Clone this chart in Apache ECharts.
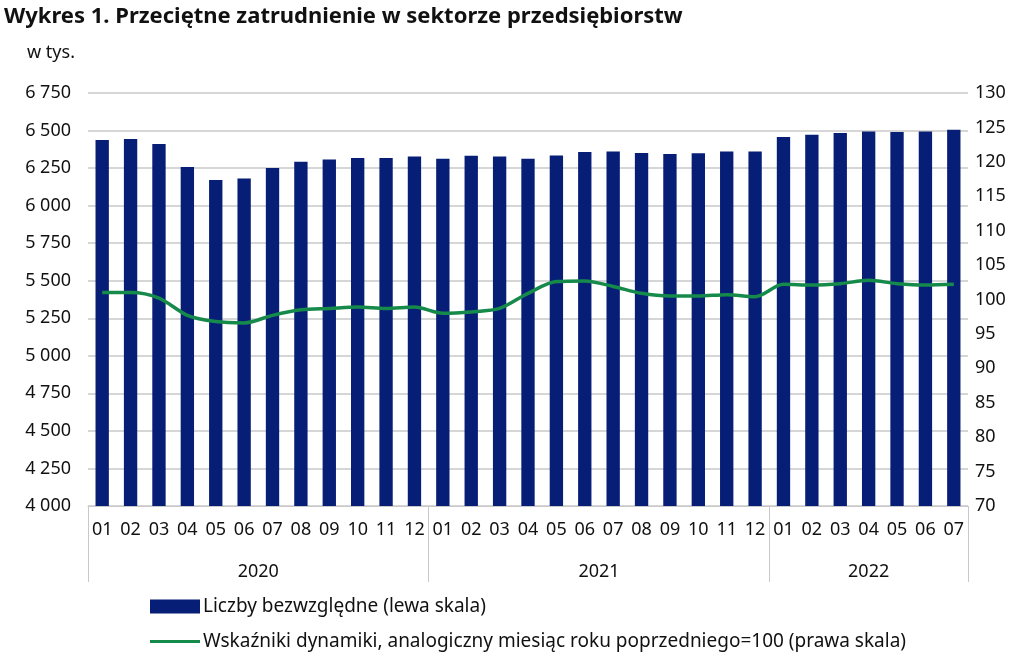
<!DOCTYPE html>
<html>
<head>
<meta charset="utf-8">
<script src="https://cdn.jsdelivr.net/npm/echarts@6/dist/echarts.min.js"></script>
<style>
  html, body { margin: 0; padding: 0; background: #fff; }
  #chart { width: 1030px; height: 657px; }
</style>
</head>
<body>
<div id="chart"></div>
<script>
var months = ['01','02','03','04','05','06','07','08','09','10','11','12',
  '01','02','03','04','05','06','07','08','09','10','11','12',
  '01','02','03','04','05','06','07'];
var years = ['2020', '2021', '2022'];
var yearBounds = [0, 12, 24, 31];
var yearCenters = [6, 18, 27.5];

// przeciętne zatrudnienie, w tys.
var employment = [6437, 6443, 6410, 6257, 6170, 6181, 6250, 6292, 6308, 6317, 6317, 6328,
  6312, 6332, 6328, 6312, 6334, 6357, 6361, 6350, 6343, 6348, 6361, 6361,
  6457, 6472, 6483, 6494, 6490, 6494, 6506];
// analogiczny miesiąc roku poprzedniego = 100
var dynamics = [101.0, 101.0, 100.2, 97.7, 96.8, 96.6, 97.7, 98.5, 98.7, 98.9, 98.7, 98.9,
  98.0, 98.2, 98.7, 100.9, 102.6, 102.7, 101.9, 100.9, 100.5, 100.5, 100.7, 100.4,
  102.2, 102.1, 102.3, 102.8, 102.3, 102.1, 102.2];

var barName = 'Liczby bezwzględne (lewa skala)';
var lineName = 'Wskaźniki dynamiki, analogiczny miesiąc roku poprzedniego=100 (prawa skala)';

var font = 'Noto Sans';
var txt = '#111';
var gridGray = '#c8c8c8';
var navy = '#061e75';
var green = '#158a4a';

var myChart = echarts.init(document.getElementById('chart'), null, { renderer: 'canvas' });

var option = {
  backgroundColor: '#fff',
  animation: false,
  textStyle: { fontFamily: font },
  title: [
    {
      text: 'Wykres 1. Przeciętne zatrudnienie w sektorze przedsiębiorstw',
      left: 4, top: 6, padding: 0,
      textStyle: { fontFamily: font, fontSize: 22, fontWeight: 'bold', color: txt }
    },
    {
      text: 'w tys.',
      left: 27, top: 44, padding: 0,
      textStyle: { fontFamily: font, fontSize: 18, fontWeight: 'normal', color: txt }
    }
  ],
  legend: [
    {
      left: 145, top: 592,
      itemWidth: 50, itemHeight: 14, itemGap: 0,
      textStyle: { fontFamily: font, fontSize: 19, color: txt, padding: [0, 0, 0, -2] },
      data: [{ name: barName, icon: 'rect' }]
    },
    {
      left: 145, top: 627,
      itemWidth: 50, itemHeight: 3, itemGap: 0,
      textStyle: { fontFamily: font, fontSize: 19, color: txt, padding: [0, 0, 0, -2] },
      data: [{ name: lineName, icon: 'rect' }]
    }
  ],
  grid: { left: 88, right: 62, top: 93, bottom: 151 },
  xAxis: [
    {
      type: 'category',
      data: months,
      axisLine: { lineStyle: { color: gridGray, width: 1 } },
      axisTick: { show: false },
      axisLabel: { color: txt, fontSize: 18, margin: 15, interval: 0 }
    },
    {
      type: 'value',
      position: 'bottom',
      min: 0, max: 31,
      axisLine: { show: false },
      splitLine: { show: false },
      axisTick: {
        show: true, length: 76, customValues: yearBounds,
        lineStyle: { color: gridGray, width: 1 }
      },
      axisLabel: {
        customValues: yearCenters,
        margin: 57,
        color: txt, fontSize: 18,
        formatter: function (v) { return years[yearCenters.indexOf(v)]; }
      }
    }
  ],
  yAxis: [
    {
      type: 'value',
      min: 4000, max: 6750, interval: 250,
      axisLine: { show: false },
      axisTick: { show: false },
      splitLine: { lineStyle: { color: gridGray, width: 1.5 } },
      axisLabel: {
        color: txt, fontSize: 18, margin: 17,
        formatter: function (v) { return v.toString().replace(/\B(?=(\d{3})+(?!\d))/g, ' '); }
      }
    },
    {
      type: 'value',
      min: 70, max: 130, interval: 5,
      axisLine: { show: false },
      axisTick: { show: false },
      splitLine: { show: false },
      axisLabel: { color: txt, fontSize: 18, margin: 7 }
    }
  ],
  series: [
    {
      name: barName,
      type: 'bar',
      data: employment,
      barWidth: '47%',
      itemStyle: { color: navy }
    },
    {
      name: lineName,
      type: 'line',
      yAxisIndex: 1,
      data: dynamics,
      smooth: 0.3,
      symbol: 'none',
      lineStyle: { color: green, width: 3.5 },
      itemStyle: { color: green }
    }
  ]
};

myChart.setOption(option);
window.addEventListener('resize', myChart.resize);
</script>
</body>
</html>
